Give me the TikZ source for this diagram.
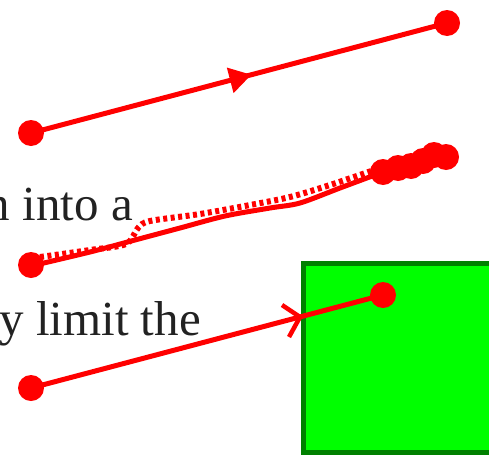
\documentclass[tikz,border=0pt]{standalone}
\usepackage{fontspec}
\setmainfont{Liberation Serif}
\usetikzlibrary{arrows.meta,decorations.markings}
\definecolor{boxgreen}{RGB}{0,255,0}
\definecolor{boxedge}{RGB}{0,128,0}
\definecolor{txt}{RGB}{34,34,34}
\tikzset{
  redline/.style={draw=red, line width=5pt},
  dotline/.style={draw=red, line width=6pt, dash pattern=on 4pt off 3.5pt},
  dot/.style={circle, fill=red, minimum size=26pt, inner sep=0pt},
  bgtext/.style={text=txt, inner sep=0pt, anchor=base east, font=\fontsize{49}{52}\selectfont},
  midarrow/.style={decoration={markings, mark=at position 0.53 with {\arrow{Triangle[length=22pt,width=25pt]}}}, postaction={decorate}},
  square/.style={fill=boxgreen, draw=boxedge, line width=5pt}
}
\begin{document}
\begin{tikzpicture}[x=1pt,y=-1pt]
\useasboundingbox (0,0) rectangle (489,455);
\begin{scope}
\clip (0,0) rectangle (489,455);
% background text
\node[bgtext] (t1) at (133,220) {n into a};
\node[bgtext] (t2) at (201,335) {ly limit the};
% green square
\draw[square] (303,263) rectangle (520,452);
% line 1
\node[dot] (a1) at (31,133) {};
\node[dot] (b1) at (447,23) {};
\draw[redline, midarrow] (a1.center) -- (b1.center);
% line 2
\draw[redline] plot[smooth] coordinates {(31,266) (90,252) (135,240) (180,228) (225,216) (270,208) (300,203) (340,188) (383,172)};
\draw[dotline] plot[smooth] coordinates {(40,257) (90,250) (126,244) (138,228) (150,221) (200,214) (250,205) (290,197) (330,185) (380,168)};
\node[dot] (a2) at (31,265) {};
\node[dot] (e1) at (383,172) {};
\node[dot] (e2) at (398,168) {};
\node[dot] (e3) at (411,166) {};
\node[dot] (e4) at (423,161) {};
\node[dot] (e5) at (434,155) {};
\node[dot] (e6) at (446,157) {};
% line 3
\node[dot] (a3) at (31,388) {};
\node[dot] (b3) at (383,295) {};
\draw[redline] (a3.center) -- (b3.center);
\coordinate (tip) at (300,317);
\draw[red, line width=4.5pt] (282,305) -- (tip) -- (289,337);
\end{scope}
\end{tikzpicture}
\end{document}
